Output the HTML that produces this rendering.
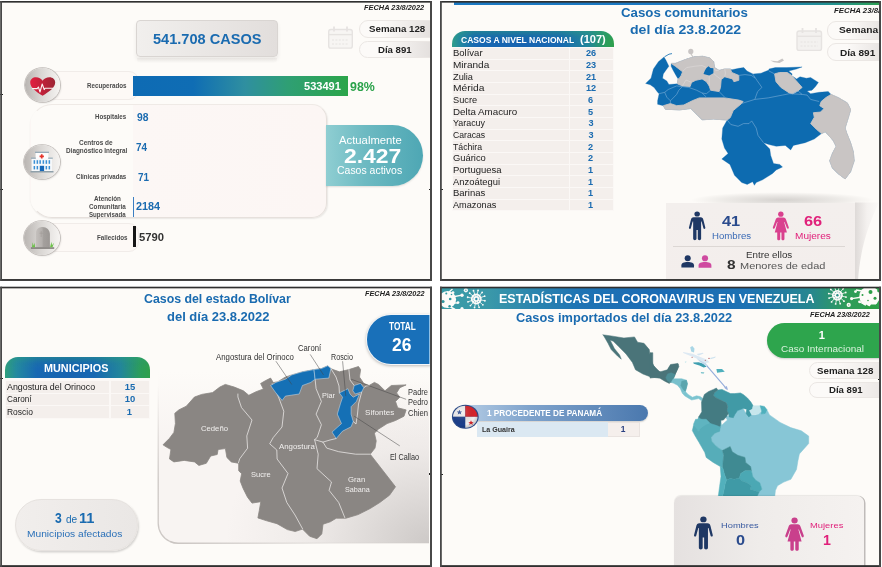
<!DOCTYPE html>
<html lang="es"><head><meta charset="utf-8"><title>Estadísticas del Coronavirus en Venezuela</title>
<style>
html,body{margin:0;padding:0;background:#fff;}
body{width:882px;height:567px;position:relative;overflow:hidden;font-family:'Liberation Sans', sans-serif;}
.panel{position:absolute;overflow:hidden;background:#fdfbf8;}
.in{position:absolute;width:882px;height:567px;}
.tx{position:absolute;left:0;top:0;width:882px;height:567px;will-change:transform;}
.t{position:absolute;white-space:pre;line-height:1;transform-origin:0 50%;}
svg{position:absolute;left:0;top:0;overflow:visible;}
</style></head><body>
<div class="panel" style="left:0px;top:1px;width:432px;height:280px"><div class="in" style="left:0px;top:-1px">
<div style="position:absolute;left:135.80px;top:20.30px;width:142.50px;height:36.70px;box-sizing:border-box;border-radius:4px;background:linear-gradient(90deg,#f1efed,#e2dedc);border:1px solid #d9d5d2;box-shadow:0 3px 4px rgba(0,0,0,.07);"></div>
<div style="position:absolute;left:137.00px;top:57.50px;width:140.00px;height:5.50px;box-sizing:border-box;background:linear-gradient(180deg,rgba(120,110,105,.07),rgba(120,110,105,0));border-radius:0 0 4px 4px;"></div>
<div style="position:absolute;left:358.60px;top:19.90px;width:73.40px;height:17.70px;box-sizing:border-box;border-radius:9px 0 0 9px;background:linear-gradient(90deg,#fcfaf8 30%,#e4e0de);border:1px solid #ebe7e4;"></div>
<div style="position:absolute;left:358.60px;top:40.50px;width:73.40px;height:17.70px;box-sizing:border-box;border-radius:9px 0 0 9px;background:linear-gradient(90deg,#fcfaf8 30%,#e4e0de);border:1px solid #ebe7e4;"></div>
<svg width="882" height="567" viewBox="0 0 882 567"><g fill="none" stroke="#e6e3e1" stroke-width="1.4"><rect x="328.7" y="29.5" width="23.6" height="18.6" rx="2.2" fill="#f7f5f3"/><line x1="328.7" y1="34.6" x2="352.3" y2="34.6"/><line x1="334" y1="26.5" x2="334" y2="31.5" stroke-width="1.8"/><line x1="347" y1="26.5" x2="347" y2="31.5" stroke-width="1.8"/><line x1="332" y1="40" x2="349" y2="40" stroke-dasharray="2 1.4" stroke-width="1"/><line x1="332" y1="44" x2="349" y2="44" stroke-dasharray="2 1.4" stroke-width="1"/></g></svg>
<div style="position:absolute;left:42.00px;top:71.10px;width:97.40px;height:29.40px;box-sizing:border-box;border-radius:0 10px 10px 0;background:#fdf9f6;border:1px solid #f1ece9;"></div>
<div style="position:absolute;left:133.30px;top:75.90px;width:214.30px;height:20.10px;box-sizing:border-box;background:linear-gradient(90deg,#0e6bb4 0%,#0f6db4 28%,#2f8fa0 52%,#2f9f74 72%,#2ba54a 100%);"></div>
<div style="position:absolute;left:30.00px;top:104.40px;width:296.60px;height:113.60px;box-sizing:border-box;border-radius:22px 15px 15px 22px;background:linear-gradient(90deg,#fdfbf8 0%,#fdfbf8 34.4%,#fcf7f5 34.6%,#fcf6f4 100%);border:1px solid #e6e0dc;border-left-color:rgba(250,246,243,0);border-top-color:#efeae6;box-shadow:0.5px 1px 1.5px rgba(0,0,0,.08);"></div>
<div style="position:absolute;left:326.40px;top:125.10px;width:96.80px;height:61.30px;box-sizing:border-box;border-radius:0 31px 31px 0;background:linear-gradient(90deg,#8fced2 0%,#6dbac2 40%,#4ea7b4 100%);box-shadow:0 1px 2px rgba(0,0,0,.12);"></div>
<div style="position:absolute;left:133.10px;top:196.80px;width:1.30px;height:19.90px;box-sizing:border-box;background:#3b7ec2;"></div>
<div style="position:absolute;left:42.00px;top:223.20px;width:96.80px;height:29.20px;box-sizing:border-box;border-radius:0 10px 10px 0;background:#fdf9f6;border:1px solid #f1ece9;"></div>
<div style="position:absolute;left:133.40px;top:226.30px;width:2.20px;height:20.40px;box-sizing:border-box;background:#161616;"></div>
<div style="position:absolute;left:24.60px;top:68.10px;width:35.60px;height:34.00px;border-radius:50%;background:linear-gradient(90deg,#b9b5b2 0%,#d9d6d3 45%,#f6f4f2 100%);box-shadow:0 0 0 0.8px #bfbab7, 1px 1px 2px rgba(0,0,0,.15);"></div>
<svg width="882" height="567" viewBox="0 0 882 567"><defs><linearGradient id="hg" x1="0" x2="1" y1="0" y2="0"><stop offset="0" stop-color="#e21f3f"/><stop offset="1" stop-color="#9c2433"/></linearGradient></defs><path d="M42.6 95.8 C36 91.5 30.2 87.5 30.2 82.4 C30.2 79.2 32.8 77.2 36 77.2 C38.8 77.2 41.2 78.6 42.6 80.8 C44 78.6 46.6 77.2 49.4 77.2 C52.7 77.2 55.2 79.3 55.2 82.5 C55.2 87.5 49.4 91.5 42.6 95.8 Z" fill="url(#hg)"/><path d="M32.5 88.6 L37.2 88.6 L38.4 87 L40 92 L42.2 84 L44.2 89.6 L45 88.3 L53 88.3" fill="none" stroke="#fbf3f2" stroke-width="1.1" stroke-linejoin="round" stroke-linecap="round"/></svg>
<div style="position:absolute;left:24.30px;top:145.21px;width:35.80px;height:34.19px;border-radius:50%;background:linear-gradient(90deg,#b9b5b2 0%,#d9d6d3 45%,#f6f4f2 100%);box-shadow:0 0 0 0.8px #bfbab7, 1px 1px 2px rgba(0,0,0,.15);"></div>
<svg width="882" height="567" viewBox="0 0 882 567"><g><rect x="35.6" y="152.8" width="12.8" height="18.4" fill="#fdfdfd"/><rect x="31.6" y="158.6" width="20.4" height="12.6" fill="#f6f8fa"/><rect x="35" y="151.7" width="14" height="1.2" fill="#8fa6b4"/><rect x="31" y="157.6" width="4.8" height="1.1" fill="#8fa6b4"/><rect x="48.2" y="157.6" width="4.6" height="1.1" fill="#8fa6b4"/><path d="M40.9 154.2h1.7v1.3h1.3v1.7h-1.3v1.3h-1.7v-1.3h-1.3v-1.7h1.3z" fill="#e5352b"/><rect x="33.6" y="160.2" width="1.5" height="3.6" fill="#3a8fd4"/><rect x="36.6" y="160.2" width="1.5" height="3.6" fill="#3a8fd4"/><rect x="39.4" y="160.2" width="1.5" height="3.6" fill="#3a8fd4"/><rect x="42.6" y="160.2" width="1.5" height="3.6" fill="#3a8fd4"/><rect x="45.6" y="160.2" width="1.5" height="3.6" fill="#3a8fd4"/><rect x="48.6" y="160.2" width="1.5" height="3.6" fill="#3a8fd4"/><rect x="33.6" y="166" width="1.5" height="3.4" fill="#3a8fd4"/><rect x="36.6" y="166" width="1.5" height="3.4" fill="#3a8fd4"/><rect x="45.6" y="166" width="1.5" height="3.4" fill="#3a8fd4"/><rect x="48.6" y="166" width="1.5" height="3.4" fill="#3a8fd4"/><rect x="39.8" y="165.8" width="4.3" height="5.4" fill="#1768b8"/><rect x="30.5" y="171" width="23" height="1.5" fill="#8fa0aa"/></g></svg>
<div style="position:absolute;left:24.40px;top:221.21px;width:35.80px;height:34.19px;border-radius:50%;background:linear-gradient(90deg,#b9b5b2 0%,#d9d6d3 45%,#f6f4f2 100%);box-shadow:0 0 0 0.8px #bfbab7, 1px 1px 2px rgba(0,0,0,.15);"></div>
<svg width="882" height="567" viewBox="0 0 882 567"><defs><linearGradient id="tg" x1="0" x2="1"><stop offset="0" stop-color="#c4c0bd"/><stop offset="0.45" stop-color="#b3afac"/><stop offset="0.5" stop-color="#a5a19e"/><stop offset="1" stop-color="#9b9794"/></linearGradient></defs><path d="M36 247.4 V233 C36 229 39 227 42.4 227 C46.8 227 49.9 230 49.9 234.5 V247.4 Z" fill="url(#tg)"/><path d="M41.2 231 v6 M39.5 233.2 h3.6" stroke="#9a9693" stroke-width="0.5" fill="none"/><rect x="30.9" y="247.3" width="23.3" height="1.5" fill="#7d7977"/><path d="M32 247.3 l0.6 -5 l1 3.5 l0.9 -3 l0.6 4.5 z M50 247.3 l1.5 -5.5 l0.5 3.5 l2 -2.5 l-1.5 4.5 z" fill="#6cc24a"/></svg>
<div style="position:absolute;left:0.00px;top:94.00px;width:3.00px;height:1.20px;box-sizing:border-box;background:#222;"></div>
<div style="position:absolute;left:0.00px;top:188.70px;width:3.00px;height:1.20px;box-sizing:border-box;background:#222;"></div>
<div style="position:absolute;left:429.00px;top:188.70px;width:3.00px;height:1.20px;box-sizing:border-box;background:#222;"></div>
<div class="tx">
<span class="t" style="left:152.79px;top:32.00px;font-size:14.83px;font-weight:700;color:#1a6bb0;transform:scaleX(0.9827);">541.708 CASOS</span>
<span class="t" style="left:364.16px;top:5.00px;font-size:7.12px;font-weight:700;color:#222;font-style:italic;transform:scaleX(1.0414);">FECHA 23/8/2022</span>
<span class="t" style="left:369.00px;top:24.00px;font-size:9.45px;font-weight:700;color:#222;transform:scaleX(1.0315);">Semana 128</span>
<span class="t" style="left:378.16px;top:45.00px;font-size:9.45px;font-weight:700;color:#222;transform:scaleX(1.0182);">Día 891</span>
<span class="t" style="left:303.84px;top:81.00px;font-size:11.48px;font-weight:700;color:#fff;transform:scaleX(0.9632);">533491</span>
<span class="t" style="left:350.05px;top:80.00px;font-size:13.66px;font-weight:700;color:#2aa24a;transform:scaleX(0.9074);">98%</span>
<span class="t" style="left:87.00px;top:83.00px;font-size:6.83px;font-weight:700;color:#4a4a4a;transform:scaleX(0.9140);">Recuperados</span>
<span class="t" style="left:338.79px;top:136.00px;font-size:10.03px;font-weight:400;color:#fff;transform:scaleX(1.1276);">Actualmente</span>
<span class="t" style="left:343.73px;top:147.00px;font-size:19.77px;font-weight:700;color:#fff;transform:scaleX(1.1596);">2.427</span>
<span class="t" style="left:337.05px;top:166.00px;font-size:10.03px;font-weight:400;color:#fff;transform:scaleX(1.0452);">Casos activos</span>
<span class="t" style="left:94.63px;top:114.00px;font-size:6.83px;font-weight:700;color:#4a4a4a;transform:scaleX(0.9005);">Hospitales</span>
<span class="t" style="left:136.79px;top:112.00px;font-size:11.19px;font-weight:700;color:#1a6bb0;transform:scaleX(0.9231);">98</span>
<span class="t" style="left:79.21px;top:140.00px;font-size:6.83px;font-weight:700;color:#4a4a4a;transform:scaleX(0.9429);">Centros de</span>
<span class="t" style="left:65.58px;top:148.00px;font-size:6.83px;font-weight:700;color:#4a4a4a;transform:scaleX(0.9354);">Diagnóstico Integral</span>
<span class="t" style="left:135.84px;top:142.00px;font-size:11.19px;font-weight:700;color:#1a6bb0;transform:scaleX(0.8846);">74</span>
<span class="t" style="left:76.37px;top:174.00px;font-size:6.83px;font-weight:700;color:#4a4a4a;transform:scaleX(0.8946);">Clínicas privadas</span>
<span class="t" style="left:137.79px;top:172.00px;font-size:11.19px;font-weight:700;color:#1a6bb0;transform:scaleX(0.8867);">71</span>
<span class="t" style="left:94.21px;top:196.00px;font-size:6.83px;font-weight:700;color:#4a4a4a;transform:scaleX(0.9207);">Atención</span>
<span class="t" style="left:89.21px;top:204.00px;font-size:6.83px;font-weight:700;color:#4a4a4a;transform:scaleX(0.9225);">Comunitaria</span>
<span class="t" style="left:89.21px;top:212.00px;font-size:6.83px;font-weight:700;color:#4a4a4a;transform:scaleX(0.9000);">Supervisada</span>
<span class="t" style="left:135.84px;top:201.00px;font-size:11.19px;font-weight:700;color:#1a6bb0;transform:scaleX(0.9680);">2184</span>
<span class="t" style="left:96.58px;top:235.00px;font-size:6.83px;font-weight:700;color:#4a4a4a;transform:scaleX(0.9121);">Fallecidos</span>
<span class="t" style="left:138.84px;top:232.00px;font-size:11.48px;font-weight:700;color:#333;transform:scaleX(0.9800);">5790</span>
</div>
</div></div>
<svg width="882" height="567" viewBox="0 0 882 567" style="pointer-events:none"><rect x="0.2" y="1.0" width="431.80" height="1.65" fill="#303030"/><rect x="0.2" y="279.05" width="431.80" height="1.85" fill="#303030"/><rect x="0.2" y="1.0" width="1.8" height="279.90" fill="#484848"/><rect x="430.00" y="1.0" width="2.0" height="279.90" fill="#484848"/></svg>
<div class="panel" style="left:440px;top:1px;width:441px;height:280px"><div class="in" style="left:-440px;top:-1px">
<div style="position:absolute;left:454.00px;top:2.00px;width:427.00px;height:2.60px;box-sizing:border-box;background:linear-gradient(90deg,#1b78c2 0%,#1b78c2 70%,#23938a 90%,#2ea050 100%);"></div>
<div style="position:absolute;left:827.40px;top:21.20px;width:62.60px;height:18.50px;box-sizing:border-box;border-radius:9px 0 0 9px;background:linear-gradient(90deg,#fcfaf8 30%,#e4e0de);border:1px solid #ebe7e4;"></div>
<div style="position:absolute;left:827.40px;top:42.90px;width:62.60px;height:18.60px;box-sizing:border-box;border-radius:9px 0 0 9px;background:linear-gradient(90deg,#fcfaf8 30%,#e4e0de);border:1px solid #ebe7e4;"></div>
<svg width="882" height="567" viewBox="0 0 882 567"><g fill="none" stroke="#e6e3e1" stroke-width="1.4"><rect x="797" y="31" width="24.5" height="19.4" rx="2.2" fill="#f3f1ef"/><line x1="797" y1="36.3" x2="821.5" y2="36.3"/><line x1="802.5" y1="28" x2="802.5" y2="33" stroke-width="1.8"/><line x1="816" y1="28" x2="816" y2="33" stroke-width="1.8"/><line x1="800.5" y1="42" x2="818" y2="42" stroke-dasharray="2 1.4" stroke-width="1"/><line x1="800.5" y1="46" x2="818" y2="46" stroke-dasharray="2 1.4" stroke-width="1"/></g></svg>
<div style="position:absolute;left:451.80px;top:30.60px;width:162.30px;height:16.00px;box-sizing:border-box;border-radius:13px 13px 0 0;background:linear-gradient(180deg,rgba(46,160,120,.45) 0%,rgba(40,140,130,.15) 35%,rgba(27,110,184,0) 60%),linear-gradient(90deg,#2f9f8a 0%,#2389a0 5%,#1868b2 14%,#1763b0 45%,#1868b2 66%,#22869a 84%,#2c9d5c 95%,#2fa04c 100%);"></div>
<div style="position:absolute;left:451.80px;top:46.60px;width:162.30px;height:164.20px;box-sizing:border-box;background:#fbf8f6;"></div>
<div style="position:absolute;left:452.50px;top:48.10px;width:116.50px;height:10.56px;box-sizing:border-box;background:#f4efec;"></div>
<div style="position:absolute;left:570.20px;top:48.10px;width:43.10px;height:10.56px;box-sizing:border-box;background:#f4efec;"></div>
<div style="position:absolute;left:452.50px;top:59.76px;width:116.50px;height:10.56px;box-sizing:border-box;background:#f4efec;"></div>
<div style="position:absolute;left:570.20px;top:59.76px;width:43.10px;height:10.56px;box-sizing:border-box;background:#f4efec;"></div>
<div style="position:absolute;left:452.50px;top:71.42px;width:116.50px;height:10.56px;box-sizing:border-box;background:#f4efec;"></div>
<div style="position:absolute;left:570.20px;top:71.42px;width:43.10px;height:10.56px;box-sizing:border-box;background:#f4efec;"></div>
<div style="position:absolute;left:452.50px;top:83.08px;width:116.50px;height:10.56px;box-sizing:border-box;background:#f4efec;"></div>
<div style="position:absolute;left:570.20px;top:83.08px;width:43.10px;height:10.56px;box-sizing:border-box;background:#f4efec;"></div>
<div style="position:absolute;left:452.50px;top:94.74px;width:116.50px;height:10.56px;box-sizing:border-box;background:#f4efec;"></div>
<div style="position:absolute;left:570.20px;top:94.74px;width:43.10px;height:10.56px;box-sizing:border-box;background:#f4efec;"></div>
<div style="position:absolute;left:452.50px;top:106.40px;width:116.50px;height:10.56px;box-sizing:border-box;background:#f4efec;"></div>
<div style="position:absolute;left:570.20px;top:106.40px;width:43.10px;height:10.56px;box-sizing:border-box;background:#f4efec;"></div>
<div style="position:absolute;left:452.50px;top:118.06px;width:116.50px;height:10.56px;box-sizing:border-box;background:#f4efec;"></div>
<div style="position:absolute;left:570.20px;top:118.06px;width:43.10px;height:10.56px;box-sizing:border-box;background:#f4efec;"></div>
<div style="position:absolute;left:452.50px;top:129.72px;width:116.50px;height:10.56px;box-sizing:border-box;background:#f4efec;"></div>
<div style="position:absolute;left:570.20px;top:129.72px;width:43.10px;height:10.56px;box-sizing:border-box;background:#f4efec;"></div>
<div style="position:absolute;left:452.50px;top:141.38px;width:116.50px;height:10.56px;box-sizing:border-box;background:#f4efec;"></div>
<div style="position:absolute;left:570.20px;top:141.38px;width:43.10px;height:10.56px;box-sizing:border-box;background:#f4efec;"></div>
<div style="position:absolute;left:452.50px;top:153.04px;width:116.50px;height:10.56px;box-sizing:border-box;background:#f4efec;"></div>
<div style="position:absolute;left:570.20px;top:153.04px;width:43.10px;height:10.56px;box-sizing:border-box;background:#f4efec;"></div>
<div style="position:absolute;left:452.50px;top:164.70px;width:116.50px;height:10.56px;box-sizing:border-box;background:#f4efec;"></div>
<div style="position:absolute;left:570.20px;top:164.70px;width:43.10px;height:10.56px;box-sizing:border-box;background:#f4efec;"></div>
<div style="position:absolute;left:452.50px;top:176.36px;width:116.50px;height:10.56px;box-sizing:border-box;background:#f4efec;"></div>
<div style="position:absolute;left:570.20px;top:176.36px;width:43.10px;height:10.56px;box-sizing:border-box;background:#f4efec;"></div>
<div style="position:absolute;left:452.50px;top:188.02px;width:116.50px;height:10.56px;box-sizing:border-box;background:#f4efec;"></div>
<div style="position:absolute;left:570.20px;top:188.02px;width:43.10px;height:10.56px;box-sizing:border-box;background:#f4efec;"></div>
<div style="position:absolute;left:452.50px;top:199.68px;width:116.50px;height:10.56px;box-sizing:border-box;background:#f4efec;"></div>
<div style="position:absolute;left:570.20px;top:199.68px;width:43.10px;height:10.56px;box-sizing:border-box;background:#f4efec;"></div>
<div style="position:absolute;left:440.00px;top:188.70px;width:3.00px;height:1.20px;box-sizing:border-box;background:#222;"></div>
<svg width="882" height="567" viewBox="0 0 882 567"><polygon points="664.0,57.0 666.1,60.5 668.9,66.2 666.8,69.0 663.3,73.9 662.6,78.2 666.8,81.0 668.9,84.5 677.4,83.8 678.1,78.9 676.0,75.4 673.2,70.4 671.1,66.2 671.3,63.4 675.3,63.4 686.6,59.1 694.4,56.7 702.8,56.3 709.9,58.0 713.7,61.7 714.5,67.6 719.1,70.4 724.7,69.0 730.4,69.0 731.8,69.7 738.8,68.3 743.8,67.6 747.0,71.0 753.0,74.0 761.0,73.2 769.0,70.0 768.9,69.0 775.3,67.6 786.6,67.6 802.1,66.9 796.5,69.0 788.7,71.1 792.2,73.9 791.5,75.4 796.5,78.9 800.0,76.8 806.4,78.2 810.6,77.5 818.4,82.4 815.5,86.6 812.0,90.2 807.1,90.9 810.6,93.7 819.1,92.3 828.2,91.6 831.1,94.4 838.8,97.9 847.3,102.9 850.1,108.5 850.6,110.0 847.9,119.1 845.1,128.1 846.9,133.6 850.6,142.7 853.3,151.7 854.2,160.8 850.6,171.7 845.1,178.9 837.9,173.5 832.4,168.0 829.7,160.8 832.4,153.5 836.1,146.3 833.3,140.8 828.8,135.4 825.2,131.8 821.5,133.6 814.3,139.0 805.2,142.7 793.4,145.4 790.7,149.9 785.3,145.4 776.2,146.3 768.9,144.5 763.5,142.7 769.8,149.0 770.7,155.4 773.5,163.5 779.8,164.4 782.5,167.1 776.2,169.9 772.6,173.5 762.6,179.8 756.2,182.6 754.4,185.3 752.6,181.7 747.2,184.4 741.7,182.6 734.5,175.3 729.9,164.4 721.8,159.0 728.1,153.5 724.5,148.1 721.8,139.0 722.7,128.1 727.2,120.0 713.4,119.1 702.1,119.8 696.5,114.2 690.8,108.5 679.5,109.9 665.4,109.2 663.3,105.7 657.6,104.3 657.6,100.8 659.1,93.7 657.6,92.3 654.1,87.4 650.2,84.8 645.6,83.4 651.0,78.2 653.4,69.0 658.4,61.7" fill="#0d6bb0" stroke="#0d6bb0" stroke-width="0.3" stroke-linejoin="round"/><polygon points="671.3,63.4 675.3,63.4 686.6,59.1 694.4,56.7 702.8,56.3 709.9,58.0 713.7,61.7 714.5,67.6 719.1,70.4 724.7,69.0 730.4,69.0 731.8,72.5 738.8,75.4 738.8,80.3 733.9,81.7 732.5,78.9 724.7,76.8 721.2,79.6 720.5,87.4 719.1,91.6 710.6,90.2 709.2,85.9 706.4,81.7 702.1,78.9 695.8,80.3 691.5,82.4 690.1,86.6 682.4,85.9 677.4,83.8 678.1,78.9 679.2,78.4 681.2,75.4 682.6,71.8 675.3,66.2" fill="#c9c5c4" stroke="#c9c5c4" stroke-width="0.9" stroke-linejoin="round"/><polygon points="663.3,105.7 670.4,103.6 676.7,105.7 683.8,105.0 692.2,100.8 699.3,97.9 706.4,97.9 724.7,97.9 738.8,100.1 743.1,101.5 741.6,103.5 733.2,110.6 730.3,117.6 727.2,120.0 713.4,119.1 702.1,119.8 696.5,114.2 690.8,108.5 679.5,109.9 665.4,109.2" fill="#c9c5c4" stroke="#c9c5c4" stroke-width="0.9" stroke-linejoin="round"/><polygon points="774.6,73.9 779.5,72.5 787.3,72.5 791.5,75.4 795.8,80.3 802.1,87.4 797.9,90.9 792.9,93.7 789.4,93.0 780.9,87.4 776.0,81.7" fill="#c9c5c4" stroke="#c9c5c4" stroke-width="0.9" stroke-linejoin="round"/><polygon points="831.1,94.4 838.8,97.9 847.3,102.9 850.1,108.5 850.6,110.0 847.9,119.1 845.1,128.1 846.9,133.6 850.6,142.7 853.3,151.7 854.2,160.8 850.6,171.7 845.1,178.9 837.9,173.5 832.4,168.0 829.7,160.8 832.4,153.5 836.1,146.3 833.3,140.8 828.8,135.4 825.2,131.8 821.5,133.6 816.1,129.0 810.7,123.6 814.3,117.3 813.4,112.7 820.5,112.1 824.0,108.5 819.8,105.7 821.2,101.5 826.0,97.5" fill="#c9c5c4" stroke="#c9c5c4" stroke-width="0.9" stroke-linejoin="round"/><polyline points="682.4,71.8 686.6,67.6 695.0,66.2 702.1,65.5 706.4,67.6" fill="none" stroke="#e2dfde" stroke-width="0.5"/><polyline points="682.4,85.9 686.0,80.0 691.5,82.4" fill="none" stroke="#e2dfde" stroke-width="0.5"/><polyline points="713.4,73.2 716.5,76.0 721.2,79.6" fill="none" stroke="#e2dfde" stroke-width="0.5"/><polyline points="713.4,68.3 716.0,70.5 719.1,70.4" fill="none" stroke="#e2dfde" stroke-width="0.5"/><polyline points="724.7,69.0 725.5,73.0 724.7,76.8" fill="none" stroke="#e2dfde" stroke-width="0.5"/><polyline points="709.2,75.4 709.2,85.9" fill="none" stroke="#e2dfde" stroke-width="0.5"/><polygon points="708.5,66.2 710.5,68.0 713.4,68.3 713.4,73.2 709.2,75.4 703.5,73.9 704.9,70.4 706.4,67.9" fill="#0d6bb0" /><ellipse cx="690.8" cy="51.5" rx="2.6" ry="2.8" fill="#c9c5c4"/><path d="M691 54 L693 57" stroke="#c9c5c4" stroke-width="1.2"/><polygon points="770.3,60.5 777.4,61.2 782.3,58.4 784.0,60.5 779.5,63.1 773.9,62.2" fill="#c9c5c4" /><polyline points="664.5,56.8 669.0,54.2 672.0,53.6" fill="none" stroke="#0d6bb0" stroke-width="0.8"/><polyline points="727.2,120.0 730.8,124.5 738.1,126.3 743.5,123.6 749.0,123.6 751.7,120.9 756.2,128.1 758.0,135.4 763.5,142.7" fill="none" stroke="#86b4da" stroke-width="0.55" stroke-linejoin="round"/><polyline points="741.6,103.5 754.8,99.4 768.2,97.9 782.4,95.1 789.4,93.7 802.1,94.4 807.1,95.1 810.6,99.4 819.1,101.5" fill="none" stroke="#86b4da" stroke-width="0.55" stroke-linejoin="round"/><polyline points="754.8,99.4 757.6,91.6 761.9,87.4 756.9,80.3 752.7,73.9" fill="none" stroke="#86b4da" stroke-width="0.55" stroke-linejoin="round"/><polyline points="738.8,75.4 745.0,74.6 751.3,75.4 755.0,78.0" fill="none" stroke="#86b4da" stroke-width="0.55" stroke-linejoin="round"/><polyline points="659.1,93.7 664.7,92.3 666.8,97.2 670.4,100.8 670.4,103.6" fill="none" stroke="#86b4da" stroke-width="0.55" stroke-linejoin="round"/><polyline points="664.7,92.3 668.2,89.5 676.7,85.9 682.4,86.6 678.8,90.2 676.7,94.4 670.4,100.8" fill="none" stroke="#86b4da" stroke-width="0.55" stroke-linejoin="round"/><polyline points="682.4,86.6 688.7,87.4 696.5,90.2 702.1,93.0 706.4,97.2" fill="none" stroke="#86b4da" stroke-width="0.55" stroke-linejoin="round"/><polyline points="702.1,93.0 706.4,93.7 710.6,90.2" fill="none" stroke="#86b4da" stroke-width="0.55" stroke-linejoin="round"/><polyline points="719.1,91.6 724.7,97.2" fill="none" stroke="#86b4da" stroke-width="0.55" stroke-linejoin="round"/><polyline points="792.9,93.7 797.9,90.9 802.1,94.4" fill="none" stroke="#86b4da" stroke-width="0.55" stroke-linejoin="round"/><polyline points="774.6,73.9 769.0,71.0" fill="none" stroke="#86b4da" stroke-width="0.55" stroke-linejoin="round"/></svg>
<div style="position:absolute;left:690px;top:192px;width:185px;height:16px;border-radius:50%;background:radial-gradient(ellipse at center,rgba(120,115,112,.30) 0%,rgba(120,115,112,.12) 45%,rgba(120,115,112,0) 70%);"></div>
<div style="position:absolute;left:666.30px;top:202.60px;width:188.70px;height:79.40px;box-sizing:border-box;background:linear-gradient(180deg,#f3efed 0%,#f3eeec 100%);"></div>
<svg width="882" height="567" viewBox="0 0 882 567"><defs><linearGradient id="curl" x1="0" x2="1"><stop offset="0" stop-color="#dedad8"/><stop offset="0.5" stop-color="#f4f1ef"/><stop offset="1" stop-color="#fbf9f7"/></linearGradient></defs><path d="M855 202.6 L879 202.6 C868 225 860 250 858 281 L855 281 Z" fill="url(#curl)"/></svg>
<div style="position:absolute;left:672.60px;top:245.90px;width:172.40px;height:1.00px;box-sizing:border-box;background:#dcd7d4;"></div>
<svg width="882" height="567" viewBox="0 0 882 567"><g transform="translate(688.90,211.40) scale(0.2890)" fill="#1f3864"><ellipse cx="28.5" cy="8.8" rx="9.6" ry="8.8"/><path d="M16.5 20.5 H40.5 C46.5 20.5 49.0 24 50.0 29 L56.8 56 C58.0 61 51.5 62.8 50.3 58 L44.0 35 H42.3 V95 C42.3 101.5 30.7 101.5 30.7 95 V64 H26.3 V95 C26.3 101.5 14.7 101.5 14.7 95 V35 H13.0 L6.699999999999999 58 C5.5 62.8 -1.0 61 0.1999999999999993 56 L7.0 29 C8.0 24 10.5 20.5 16.5 20.5 Z"/></g><g transform="translate(772.60,211.60) scale(0.2890)" fill="#d9408e"><ellipse cx="28.5" cy="8.8" rx="9.4" ry="8.8"/><path d="M19.5 20.5 H37.5 C43.0 20.5 45.5 24 47.0 29 L56.0 54 C57.5 59 51.5 61.5 49.5 57 L41.5 36 H40.0 L49.5 72 H41.0 V95 C41.0 101 30.7 101 30.7 95 V72 H26.3 V95 C26.3 101 16.0 101 16.0 95 V72 H7.5 L17.0 36 H15.5 L7.5 57 C5.5 61.5 -0.5 59 1.0 54 L10.0 29 C11.5 24 14.0 20.5 19.5 20.5 Z"/></g><g transform="translate(681.40,254.90) scale(0.1260)" fill="#1f3864"><circle cx="50" cy="26" r="24"/><path d="M0 100 V82 C0 64 20 56 50 56 C80 56 100 64 100 82 V100 Z"/></g><g transform="translate(698.60,254.90) scale(0.1280)" fill="#cf4aa0"><circle cx="50" cy="26" r="24"/><path d="M0 100 V82 C0 64 20 56 50 56 C80 56 100 64 100 82 V100 Z"/></g></svg>
<div class="tx">
<span class="t" style="left:620.63px;top:6.00px;font-size:13.23px;font-weight:700;color:#1a6bb0;transform:scaleX(1.0040);">Casos comunitarios</span>
<span class="t" style="left:629.84px;top:23.00px;font-size:13.23px;font-weight:700;color:#1a6bb0;transform:scaleX(1.0654);">del día 23.8.2022</span>
<span class="t" style="left:833.79px;top:7.00px;font-size:7.56px;font-weight:700;color:#222;font-style:italic;transform:scaleX(1.0371);">FECHA 23/8/2022</span>
<span class="t" style="left:838.84px;top:25.00px;font-size:9.74px;font-weight:700;color:#222;transform:scaleX(1.0500);">Semana 128</span>
<span class="t" style="left:840.21px;top:48.00px;font-size:9.74px;font-weight:700;color:#222;transform:scaleX(1.0353);">Día 891</span>
<span class="t" style="left:460.63px;top:35.00px;font-size:9.88px;font-weight:700;color:#fff;transform:scaleX(0.8649);">CASOS A NIVEL NACIONAL</span>
<span class="t" style="left:580.37px;top:34.00px;font-size:10.61px;font-weight:700;color:#fff;transform:scaleX(1.0417);">(107)</span>
<span class="t" style="left:452.63px;top:49.00px;font-size:8.58px;font-weight:400;color:#222;transform:scaleX(1.1077);">Bolívar</span>
<span class="t" style="left:586.00px;top:49.00px;font-size:9.16px;font-weight:700;color:#1a6bb0;">26</span>
<span class="t" style="left:452.57px;top:61.00px;font-size:8.58px;font-weight:400;color:#222;transform:scaleX(1.1700);">Miranda</span>
<span class="t" style="left:586.00px;top:61.00px;font-size:9.16px;font-weight:700;color:#1a6bb0;">23</span>
<span class="t" style="left:452.84px;top:73.00px;font-size:8.58px;font-weight:400;color:#222;transform:scaleX(1.0750);">Zulia</span>
<span class="t" style="left:586.00px;top:73.00px;font-size:9.16px;font-weight:700;color:#1a6bb0;">21</span>
<span class="t" style="left:452.54px;top:84.00px;font-size:8.58px;font-weight:400;color:#222;transform:scaleX(1.1960);">Mérida</span>
<span class="t" style="left:586.00px;top:84.00px;font-size:9.16px;font-weight:700;color:#1a6bb0;">12</span>
<span class="t" style="left:452.66px;top:96.00px;font-size:8.58px;font-weight:400;color:#222;transform:scaleX(1.0762);">Sucre</span>
<span class="t" style="left:588.00px;top:96.00px;font-size:9.16px;font-weight:700;color:#1a6bb0;">6</span>
<span class="t" style="left:452.60px;top:108.00px;font-size:8.58px;font-weight:400;color:#222;transform:scaleX(1.1418);">Delta Amacuro</span>
<span class="t" style="left:588.00px;top:108.00px;font-size:9.16px;font-weight:700;color:#1a6bb0;">5</span>
<span class="t" style="left:452.84px;top:119.00px;font-size:8.58px;font-weight:400;color:#222;transform:scaleX(1.0387);">Yaracuy</span>
<span class="t" style="left:588.50px;top:119.00px;font-size:9.16px;font-weight:700;color:#1a6bb0;">3</span>
<span class="t" style="left:452.84px;top:131.00px;font-size:8.58px;font-weight:400;color:#222;transform:scaleX(1.0062);">Caracas</span>
<span class="t" style="left:588.50px;top:131.00px;font-size:9.16px;font-weight:700;color:#1a6bb0;">3</span>
<span class="t" style="left:452.84px;top:143.00px;font-size:8.58px;font-weight:400;color:#222;transform:scaleX(1.0138);">Táchira</span>
<span class="t" style="left:588.00px;top:143.00px;font-size:9.16px;font-weight:700;color:#1a6bb0;">2</span>
<span class="t" style="left:452.84px;top:154.00px;font-size:8.58px;font-weight:400;color:#222;transform:scaleX(1.0933);">Guárico</span>
<span class="t" style="left:588.00px;top:154.00px;font-size:9.16px;font-weight:700;color:#1a6bb0;">2</span>
<span class="t" style="left:452.63px;top:166.00px;font-size:8.58px;font-weight:400;color:#222;transform:scaleX(1.1070);">Portuguesa</span>
<span class="t" style="left:588.00px;top:166.00px;font-size:9.16px;font-weight:700;color:#1a6bb0;">1</span>
<span class="t" style="left:452.84px;top:178.00px;font-size:8.58px;font-weight:400;color:#222;transform:scaleX(1.0953);">Anzoátegui</span>
<span class="t" style="left:588.00px;top:178.00px;font-size:9.16px;font-weight:700;color:#1a6bb0;">1</span>
<span class="t" style="left:452.63px;top:189.00px;font-size:8.58px;font-weight:400;color:#222;transform:scaleX(1.1071);">Barinas</span>
<span class="t" style="left:588.00px;top:189.00px;font-size:9.16px;font-weight:700;color:#1a6bb0;">1</span>
<span class="t" style="left:452.84px;top:201.00px;font-size:8.58px;font-weight:400;color:#222;transform:scaleX(1.0700);">Amazonas</span>
<span class="t" style="left:588.00px;top:201.00px;font-size:9.16px;font-weight:700;color:#1a6bb0;">1</span>
<span class="t" style="left:722.42px;top:214.00px;font-size:14.83px;font-weight:700;color:#2a4b8d;transform:scaleX(1.1062);">41</span>
<span class="t" style="left:711.73px;top:233.00px;font-size:8.28px;font-weight:400;color:#3a6ab5;transform:scaleX(1.1660);">Hombres</span>
<span class="t" style="left:804.00px;top:214.00px;font-size:14.83px;font-weight:700;color:#e0207a;transform:scaleX(1.1016);">66</span>
<span class="t" style="left:794.73px;top:233.00px;font-size:8.28px;font-weight:400;color:#e0207a;transform:scaleX(1.2172);">Mujeres</span>
<span class="t" style="left:746.28px;top:251.00px;font-size:8.58px;font-weight:400;color:#333;transform:scaleX(1.1410);">Entre ellos</span>
<span class="t" style="left:727.05px;top:258.00px;font-size:13.52px;font-weight:700;color:#333;transform:scaleX(1.1429);">8</span>
<span class="t" style="left:739.80px;top:262.00px;font-size:9.16px;font-weight:400;color:#555;transform:scaleX(1.1986);">Menores de edad</span>
</div>
</div></div>
<svg width="882" height="567" viewBox="0 0 882 567" style="pointer-events:none"><rect x="440.0" y="1.0" width="441.00" height="1.65" fill="#303030"/><rect x="440.0" y="279.05" width="441.00" height="1.85" fill="#303030"/><rect x="440.0" y="1.0" width="1.8" height="279.90" fill="#484848"/><rect x="879.00" y="1.0" width="2.0" height="279.90" fill="#484848"/></svg>
<div class="panel" style="left:0px;top:287px;width:432px;height:280px"><div class="in" style="left:0px;top:-287px">
<div style="position:absolute;left:157.70px;top:352.00px;width:271.30px;height:191.20px;box-sizing:border-box;border-radius:0 0 0 20px;background:linear-gradient(180deg,rgba(248,244,242,0) 0%,rgba(248,244,242,0) 10%,rgba(248,244,242,1) 45%,rgba(248,244,242,1) 100%);"></div>
<div style="position:absolute;left:157.70px;top:352.00px;width:271.30px;height:191.20px;box-sizing:border-box;border-radius:0 0 0 20px;background:radial-gradient(ellipse 75% 85% at 100% 100%,rgba(203,199,197,.95) 0%,rgba(212,208,206,.7) 30%,rgba(226,222,220,.4) 60%,rgba(240,236,234,0) 100%);"></div>
<svg width="882" height="567" viewBox="0 0 882 567"><defs><linearGradient id="cb" gradientUnits="userSpaceOnUse" x1="0" y1="385" x2="0" y2="480"><stop offset="0" stop-color="#cdc8c5" stop-opacity="0"/><stop offset="1" stop-color="#cdc8c5" stop-opacity="1"/></linearGradient><linearGradient id="cb2" gradientUnits="userSpaceOnUse" x1="170" y1="0" x2="330" y2="0"><stop offset="0" stop-color="#c9c4c1" stop-opacity="1"/><stop offset="1" stop-color="#c9c4c1" stop-opacity="0.25"/></linearGradient></defs><path d="M158.2 385 V523.2 A20 20 0 0 0 170 541.5" fill="none" stroke="url(#cb)" stroke-width="1.3"/><path d="M170 541.5 Q174 543.3 178.2 543.3 H429" fill="none" stroke="url(#cb2)" stroke-width="1.4"/></svg>
<div style="position:absolute;left:429.00px;top:473.40px;width:3.00px;height:1.20px;box-sizing:border-box;background:#222;"></div>
<div style="position:absolute;left:366.30px;top:314.40px;width:64.70px;height:50.80px;box-sizing:border-box;border-radius:25px 0 0 25px;background:#f4f6f8;box-shadow:0 1px 3px rgba(0,0,0,.25);"></div>
<div style="position:absolute;left:367.30px;top:315.40px;width:61.90px;height:48.80px;box-sizing:border-box;border-radius:24px 0 0 24px;background:#1970b9;"></div>
<div style="position:absolute;left:429.20px;top:315.40px;width:1.00px;height:48.80px;box-sizing:border-box;background:#8fc0e6;"></div>
<div style="position:absolute;left:5.00px;top:357.20px;width:144.90px;height:21.10px;box-sizing:border-box;border-radius:13px 13px 0 0;background:linear-gradient(180deg,rgba(46,160,120,.40) 0%,rgba(40,140,130,.12) 30%,rgba(27,110,184,0) 55%),linear-gradient(90deg,#2f9f7c 0%,#2389a0 8%,#1868b2 22%,#1763b0 45%,#1868b2 62%,#22869a 80%,#2c9d5c 93%,#2fa04c 100%);"></div>
<div style="position:absolute;left:5.00px;top:378.40px;width:144.70px;height:40.60px;box-sizing:border-box;background:#fbf8f6;"></div>
<div style="position:absolute;left:5.60px;top:381.20px;width:103.70px;height:11.60px;box-sizing:border-box;background:#f4efec;"></div>
<div style="position:absolute;left:110.50px;top:381.20px;width:38.50px;height:11.60px;box-sizing:border-box;background:#f4efec;"></div>
<div style="position:absolute;left:5.60px;top:393.60px;width:103.70px;height:11.60px;box-sizing:border-box;background:#f4efec;"></div>
<div style="position:absolute;left:110.50px;top:393.60px;width:38.50px;height:11.60px;box-sizing:border-box;background:#f4efec;"></div>
<div style="position:absolute;left:5.60px;top:406.40px;width:103.70px;height:11.60px;box-sizing:border-box;background:#f4efec;"></div>
<div style="position:absolute;left:110.50px;top:406.40px;width:38.50px;height:11.60px;box-sizing:border-box;background:#f4efec;"></div>
<div style="position:absolute;left:0.00px;top:377.80px;width:3.00px;height:1.20px;box-sizing:border-box;background:#222;"></div>
<div style="position:absolute;left:14.50px;top:499.40px;width:123.90px;height:51.70px;box-sizing:border-box;border-radius:26px;background:linear-gradient(90deg,#f1eeec,#eae7e5);border:1px solid #e6e2df;box-shadow:1px 1.5px 2px rgba(0,0,0,.16);"></div>
<svg width="882" height="567" viewBox="0 0 882 567"><polygon points="163.0,444.8 169.5,438.3 173.9,432.4 175.4,423.6 174.8,413.3 179.0,409.8 186.3,406.2 194.4,397.1 201.7,394.4 212.6,392.6 219.8,387.1 225.3,384.4 234.3,387.1 243.4,390.8 248.8,395.3 256.1,391.7 263.4,389.0 260.6,383.5 265.2,380.8 270.6,378.1 273.3,382.6 277.9,381.7 285.1,377.2 291.8,374.9 302.4,371.8 314.0,369.6 321.4,368.6 327.8,365.8 330.9,368.6 333.1,369.6 339.4,371.8 348.9,369.6 358.5,366.5 360.6,369.6 359.5,377.1 363.8,383.4 369.1,385.5 374.4,382.4 378.6,384.5 385.0,390.8 391.3,385.5 406.1,384.9 399.8,387.7 396.6,392.9 399.8,397.2 395.5,401.4 397.7,407.8 406.1,409.9 404.0,416.2 395.5,420.5 387.1,423.6 378.6,429.0 374.4,433.2 376.2,440.9 375.0,448.1 370.2,454.2 395.5,486.8 389.5,495.2 379.8,502.5 370.2,508.5 358.1,514.6 346.0,518.2 336.3,518.2 330.3,521.8 323.0,524.2 321.8,533.9 317.0,538.7 309.7,536.3 302.5,529.1 295.2,531.5 287.3,529.6 277.0,523.7 266.7,520.8 257.9,517.9 259.3,510.5 260.8,501.7 252.0,503.1 247.5,497.2 243.1,488.4 240.2,481.0 241.6,473.7 238.7,470.7 238.7,463.3 231.3,461.9 226.9,457.5 225.4,448.6 218.1,449.5 217.2,454.5 210.7,456.0 206.3,463.3 198.9,465.4 194.5,461.9 184.2,460.4 173.9,461.9 169.5,458.9 170.9,449.5 166.5,447.1" fill="#8a8683" stroke="#8a8683" stroke-width="0.8" stroke-linejoin="round"/><polyline points="237.9,394.0 237.9,397.0 241.5,407.6 252.0,420.0 246.8,435.9 247.6,448.2 239.7,458.8 238.5,462.6" fill="none" stroke="#e9e6e4" stroke-width="0.8" stroke-linejoin="round" stroke-linecap="round"/><polyline points="272.3,383.8 278.5,397.0 283.8,411.2 282.0,427.0 273.2,437.6 269.7,443.8 276.8,450.0 277.1,459.0 288.0,473.5 282.0,488.0 286.8,502.5 295.0,515.0 302.5,528.7" fill="none" stroke="#e9e6e4" stroke-width="0.8" stroke-linejoin="round" stroke-linecap="round"/><polyline points="315.1,379.2 316.1,388.7 321.4,401.4 316.1,414.1 321.4,424.7 317.2,437.4 314.6,439.7 318.2,454.2 317.0,468.7 331.5,482.0 329.1,490.4 338.7,502.5 344.8,517.6" fill="none" stroke="#e9e6e4" stroke-width="0.8" stroke-linejoin="round" stroke-linecap="round"/><polyline points="314.6,439.7 323.0,442.1 326.7,448.1 338.7,451.7 355.7,454.2 370.2,454.2" fill="none" stroke="#e9e6e4" stroke-width="0.8" stroke-linejoin="round" stroke-linecap="round"/><polyline points="330.9,368.6 336.0,377.0 339.0,386.0 339.4,392.9" fill="none" stroke="#e9e6e4" stroke-width="0.8" stroke-linejoin="round" stroke-linecap="round"/><polyline points="336.2,438.5 330.0,440.0 323.0,442.1" fill="none" stroke="#e9e6e4" stroke-width="0.8" stroke-linejoin="round" stroke-linecap="round"/><polyline points="353.2,421.5 356.0,424.0 357.5,414.0 358.5,404.0 361.7,391.9" fill="none" stroke="#e9e6e4" stroke-width="0.8" stroke-linejoin="round" stroke-linecap="round"/><polyline points="354.2,385.5 350.0,380.0 348.9,369.6" fill="none" stroke="#e9e6e4" stroke-width="0.8" stroke-linejoin="round" stroke-linecap="round"/><polyline points="363.8,387.7 366.0,386.0 369.1,385.5" fill="none" stroke="#e9e6e4" stroke-width="0.8" stroke-linejoin="round" stroke-linecap="round"/><polygon points="270.6,385.5 275.9,382.4 285.4,379.2 291.8,374.9 302.4,371.8 314.0,369.6 315.1,379.2 310.8,382.4 302.4,385.5 299.2,394.0 291.8,395.1 285.4,396.1 282.2,400.4 275.9,392.9" fill="#1570b5" stroke="#cfe0ee" stroke-width="0.5" stroke-linejoin="round"/><polygon points="314.0,369.6 321.4,368.6 327.8,365.8 330.9,368.6 328.8,378.1 315.1,379.2" fill="#1570b5" stroke="#cfe0ee" stroke-width="0.5" stroke-linejoin="round"/><polygon points="339.4,392.9 347.9,388.7 350.0,394.0 353.2,397.2 359.5,394.0 356.4,401.4 351.1,406.7 351.1,414.1 353.2,421.5 351.1,426.8 342.6,431.1 336.2,438.5 332.0,432.1 341.5,423.6 337.3,414.1 340.5,403.5 342.6,397.2" fill="#1570b5" stroke="#cfe0ee" stroke-width="0.5" stroke-linejoin="round"/><polygon points="354.2,385.5 360.6,383.4 363.8,387.7 361.7,391.9 355.3,394.0 352.8,390.8" fill="#1570b5" stroke="#cfe0ee" stroke-width="0.5" stroke-linejoin="round"/><line x1="275.9" y1="361.2" x2="291.8" y2="384.5" stroke="#444" stroke-width="0.5"/><line x1="310.2" y1="354.4" x2="323.5" y2="374.9" stroke="#444" stroke-width="0.5"/><line x1="342.6" y1="361.2" x2="345.8" y2="396.1" stroke="#444" stroke-width="0.5"/><line x1="406.1" y1="399.3" x2="351.1" y2="379.2" stroke="#444" stroke-width="0.5"/><line x1="399.8" y1="445.9" x2="354.2" y2="416.2" stroke="#444" stroke-width="0.5"/></svg>
<div class="tx">
<span class="t" style="left:144.00px;top:292.00px;font-size:13.52px;font-weight:700;color:#1a6bb0;transform:scaleX(0.9130);">Casos del estado Bolívar</span>
<span class="t" style="left:166.63px;top:310.00px;font-size:13.52px;font-weight:700;color:#1a6bb0;transform:scaleX(0.9608);">del día 23.8.2022</span>
<span class="t" style="left:365.42px;top:290.00px;font-size:6.98px;font-weight:700;color:#222;font-style:italic;transform:scaleX(1.0509);">FECHA 23/8/2022</span>
<span class="t" style="left:389.00px;top:322.00px;font-size:10.32px;font-weight:700;color:#fff;transform:scaleX(0.8007);">TOTAL</span>
<span class="t" style="left:392.42px;top:336.00px;font-size:18.02px;font-weight:700;color:#fff;transform:scaleX(0.9700);">26</span>
<span class="t" style="left:43.65px;top:362.00px;font-size:11.63px;font-weight:700;color:#fff;transform:scaleX(0.9324);">MUNICIPIOS</span>
<span class="t" style="left:7.00px;top:383.00px;font-size:9.01px;font-weight:400;color:#222;transform:scaleX(0.9843);">Angostura del Orinoco</span>
<span class="t" style="left:124.80px;top:382.00px;font-size:9.45px;font-weight:700;color:#1a6bb0;">15</span>
<span class="t" style="left:7.00px;top:395.00px;font-size:9.01px;font-weight:400;color:#222;transform:scaleX(0.9074);">Caroní</span>
<span class="t" style="left:124.80px;top:394.00px;font-size:9.45px;font-weight:700;color:#1a6bb0;">10</span>
<span class="t" style="left:6.61px;top:408.00px;font-size:9.01px;font-weight:400;color:#222;transform:scaleX(0.9394);">Roscio</span>
<span class="t" style="left:126.80px;top:407.00px;font-size:9.45px;font-weight:700;color:#1a6bb0;">1</span>
<span class="t" style="left:54.63px;top:511.00px;font-size:14.53px;font-weight:700;color:#1a6bb0;transform:scaleX(0.8375);">3</span>
<span class="t" style="left:66.16px;top:515.00px;font-size:10.47px;font-weight:400;color:#1a6bb0;transform:scaleX(0.9636);">de</span>
<span class="t" style="left:78.83px;top:511.00px;font-size:14.53px;font-weight:700;color:#1a6bb0;transform:scaleX(1.0071);">11</span>
<span class="t" style="left:26.58px;top:529.00px;font-size:9.74px;font-weight:400;color:#2a70b8;transform:scaleX(1.0478);">Municipios afectados</span>
<span class="t" style="left:216.37px;top:354.00px;font-size:8.14px;font-weight:400;color:#333;transform:scaleX(0.9642);">Angostura del Orinoco</span>
<span class="t" style="left:298.37px;top:345.00px;font-size:8.14px;font-weight:400;color:#333;transform:scaleX(0.9458);">Caroní</span>
<span class="t" style="left:331.42px;top:354.00px;font-size:8.14px;font-weight:400;color:#333;transform:scaleX(0.8800);">Roscio</span>
<span class="t" style="left:407.84px;top:389.00px;font-size:8.14px;font-weight:400;color:#333;transform:scaleX(0.9182);">Padre</span>
<span class="t" style="left:407.84px;top:399.00px;font-size:8.14px;font-weight:400;color:#333;transform:scaleX(0.9182);">Pedro</span>
<span class="t" style="left:407.84px;top:410.00px;font-size:8.14px;font-weight:400;color:#333;transform:scaleX(0.9429);">Chien</span>
<span class="t" style="left:389.84px;top:454.00px;font-size:8.14px;font-weight:400;color:#333;transform:scaleX(0.8938);">El Callao</span>
<span class="t" style="left:321.58px;top:392.00px;font-size:7.85px;font-weight:400;color:#f1efee;transform:scaleX(0.9357);">Piar</span>
<span class="t" style="left:364.60px;top:409.00px;font-size:7.85px;font-weight:400;color:#f1efee;transform:scaleX(1.0333);">Sifontes</span>
<span class="t" style="left:279.05px;top:443.00px;font-size:7.85px;font-weight:400;color:#f1efee;transform:scaleX(1.0008);">Angostura</span>
<span class="t" style="left:250.83px;top:471.00px;font-size:7.85px;font-weight:400;color:#f1efee;transform:scaleX(0.9607);">Sucre</span>
<span class="t" style="left:348.05px;top:476.00px;font-size:7.85px;font-weight:400;color:#f1efee;transform:scaleX(0.9882);">Gran</span>
<span class="t" style="left:345.10px;top:486.00px;font-size:7.85px;font-weight:400;color:#f1efee;transform:scaleX(0.9172);">Sabana</span>
<span class="t" style="left:200.84px;top:425.00px;font-size:7.85px;font-weight:400;color:#f1efee;transform:scaleX(0.9815);">Cedeño</span>
</div>
</div></div>
<svg width="882" height="567" viewBox="0 0 882 567" style="pointer-events:none"><rect x="0.2" y="286.7" width="431.80" height="1.65" fill="#303030"/><rect x="0.2" y="565.15" width="431.80" height="1.85" fill="#303030"/><rect x="0.2" y="286.7" width="1.8" height="280.30" fill="#484848"/><rect x="430.00" y="286.7" width="2.0" height="280.30" fill="#484848"/></svg>
<div class="panel" style="left:440px;top:287px;width:441px;height:280px"><div class="in" style="left:-440px;top:-287px">
<div style="position:absolute;left:441.00px;top:287.50px;width:440.00px;height:21.60px;box-sizing:border-box;background:linear-gradient(90deg,#3a9ca6 0%,#3a98a9 11%,#2c87ae 20%,#1f74b4 31%,#1a6bb5 50%,#1d72b3 70%,#26878f 84%,#2e9c5a 92%,#2fa04c 100%);"></div>
<svg width="882" height="567" viewBox="0 0 882 567"><g fill="#fdfbf8" stroke="#fdfbf8"><circle cx="447.5" cy="299.5" r="8.6" stroke="none"/><line x1="452" y1="297" x2="462" y2="295.2" stroke-width="1.3"/><circle cx="462" cy="295.3" r="1.7" stroke="none"/><line x1="449" y1="292" x2="452.5" y2="289" stroke-width="1.3"/><circle cx="453" cy="292.6" r="1.4" stroke="none"/><line x1="452" y1="303" x2="458" y2="303" stroke-width="1.3"/><circle cx="458" cy="302.6" r="1.4" stroke="none"/><line x1="449" y1="306" x2="455" y2="309.5" stroke-width="1.6"/><circle cx="462" cy="308.6" r="1.6" stroke="none"/></g><circle cx="450.2" cy="299" r="1.3" fill="#2f979f"/><circle cx="449.6" cy="306.2" r="1.2" fill="#2f979f"/><circle cx="446.3" cy="293.5" r="1.0" fill="#2f979f"/><circle cx="443" cy="301.5" r="1.6" fill="#2f979f"/><circle cx="451.5" cy="294.5" r="0.8" fill="#2f979f"/><circle cx="465.9" cy="290.3" r="2.1" fill="#fdfbf8"/><circle cx="465.9" cy="290.3" r="0.7" fill="#4aa3ad"/><g fill="#fdfbf8" stroke="#fdfbf8"><circle cx="476.3" cy="299" r="5.4" stroke="none"/><line x1="476.3" y1="299" x2="484.92" y2="300.75" stroke-width="0.8"/><circle cx="484.92" cy="300.75" r="0.9" stroke="none"/><line x1="476.3" y1="299" x2="482.89" y2="304.83" stroke-width="0.8"/><circle cx="482.89" cy="304.83" r="0.9" stroke="none"/><line x1="476.3" y1="299" x2="479.10" y2="307.34" stroke-width="0.8"/><circle cx="479.10" cy="307.34" r="0.9" stroke="none"/><line x1="476.3" y1="299" x2="474.55" y2="307.62" stroke-width="0.8"/><circle cx="474.55" cy="307.62" r="0.9" stroke="none"/><line x1="476.3" y1="299" x2="470.47" y2="305.59" stroke-width="0.8"/><circle cx="470.47" cy="305.59" r="0.9" stroke="none"/><line x1="476.3" y1="299" x2="467.96" y2="301.80" stroke-width="0.8"/><circle cx="467.96" cy="301.80" r="0.9" stroke="none"/><line x1="476.3" y1="299" x2="467.68" y2="297.25" stroke-width="0.8"/><circle cx="467.68" cy="297.25" r="0.9" stroke="none"/><line x1="476.3" y1="299" x2="469.71" y2="293.17" stroke-width="0.8"/><circle cx="469.71" cy="293.17" r="0.9" stroke="none"/><line x1="476.3" y1="299" x2="473.50" y2="290.66" stroke-width="0.8"/><circle cx="473.50" cy="290.66" r="0.9" stroke="none"/><line x1="476.3" y1="299" x2="478.05" y2="290.38" stroke-width="0.8"/><circle cx="478.05" cy="290.38" r="0.9" stroke="none"/><line x1="476.3" y1="299" x2="482.13" y2="292.41" stroke-width="0.8"/><circle cx="482.13" cy="292.41" r="0.9" stroke="none"/><line x1="476.3" y1="299" x2="484.64" y2="296.20" stroke-width="0.8"/><circle cx="484.64" cy="296.20" r="0.9" stroke="none"/></g><circle cx="476.3" cy="299" r="3.35" fill="none" stroke="#3490aa" stroke-width="0.7" stroke-dasharray="1.2 0.9"/><circle cx="476.3" cy="299" r="1.19" fill="#3490aa"/><g fill="#fdfbf8" stroke="#fdfbf8"><circle cx="837.4" cy="295.3" r="5.4" stroke="none"/><line x1="837.4" y1="295.3" x2="846.02" y2="297.05" stroke-width="0.8"/><circle cx="846.02" cy="297.05" r="0.9" stroke="none"/><line x1="837.4" y1="295.3" x2="843.99" y2="301.13" stroke-width="0.8"/><circle cx="843.99" cy="301.13" r="0.9" stroke="none"/><line x1="837.4" y1="295.3" x2="840.20" y2="303.64" stroke-width="0.8"/><circle cx="840.20" cy="303.64" r="0.9" stroke="none"/><line x1="837.4" y1="295.3" x2="835.65" y2="303.92" stroke-width="0.8"/><circle cx="835.65" cy="303.92" r="0.9" stroke="none"/><line x1="837.4" y1="295.3" x2="831.57" y2="301.89" stroke-width="0.8"/><circle cx="831.57" cy="301.89" r="0.9" stroke="none"/><line x1="837.4" y1="295.3" x2="829.06" y2="298.10" stroke-width="0.8"/><circle cx="829.06" cy="298.10" r="0.9" stroke="none"/><line x1="837.4" y1="295.3" x2="828.78" y2="293.55" stroke-width="0.8"/><circle cx="828.78" cy="293.55" r="0.9" stroke="none"/><line x1="837.4" y1="295.3" x2="830.81" y2="289.47" stroke-width="0.8"/><circle cx="830.81" cy="289.47" r="0.9" stroke="none"/><line x1="837.4" y1="295.3" x2="834.60" y2="286.96" stroke-width="0.8"/><circle cx="834.60" cy="286.96" r="0.9" stroke="none"/><line x1="837.4" y1="295.3" x2="839.15" y2="286.68" stroke-width="0.8"/><circle cx="839.15" cy="286.68" r="0.9" stroke="none"/><line x1="837.4" y1="295.3" x2="843.23" y2="288.71" stroke-width="0.8"/><circle cx="843.23" cy="288.71" r="0.9" stroke="none"/><line x1="837.4" y1="295.3" x2="845.74" y2="292.50" stroke-width="0.8"/><circle cx="845.74" cy="292.50" r="0.9" stroke="none"/></g><circle cx="837.4" cy="295.3" r="3.35" fill="none" stroke="#2c8f86" stroke-width="0.7" stroke-dasharray="1.2 0.9"/><circle cx="837.4" cy="295.3" r="1.19" fill="#2c8f86"/><circle cx="848.7" cy="304.9" r="2.1" fill="#fdfbf8"/><circle cx="848.7" cy="304.9" r="0.7" fill="#5ab07a"/><g fill="#fdfbf8" stroke="#fdfbf8"><circle cx="869.5" cy="296.5" r="10.2" stroke="none"/><line x1="862" y1="297" x2="852" y2="298.6" stroke-width="1.3"/><circle cx="851.6" cy="298.6" r="1.6" stroke="none"/><line x1="862" y1="291" x2="856" y2="290" stroke-width="1.3"/><circle cx="855.5" cy="291.6" r="1.4" stroke="none"/><line x1="864" y1="304" x2="859.5" y2="302" stroke-width="1.3"/><circle cx="859.5" cy="301.8" r="1.4" stroke="none"/></g><circle cx="870.5" cy="292" r="2.0" fill="#2d9e46"/><circle cx="875" cy="298.3" r="1.5" fill="#2d9e46"/><circle cx="862.5" cy="295" r="1.0" fill="#2d9e46"/><circle cx="868" cy="300.5" r="0.8" fill="#2d9e46"/><circle cx="878.5" cy="291" r="1.2" fill="#2d9e46"/><path d="M864.5 309.1 L866 304.5 L869.5 306.5 L871 304.6 L875 304.6 L876.5 306.2 L878 309.1 Z" fill="#2d9e46"/></svg>
<div style="position:absolute;left:767.20px;top:322.80px;width:114.80px;height:35.60px;box-sizing:border-box;border-radius:17.8px 0 0 17.8px;background:#2ea54d;box-shadow:0 1px 2px rgba(0,0,0,.2),0 0 0 1px rgba(255,255,255,.6);"></div>
<div style="position:absolute;left:808.50px;top:362.00px;width:81.50px;height:17.10px;box-sizing:border-box;border-radius:9px 0 0 9px;background:linear-gradient(90deg,#fcfaf8 30%,#e9e5e3);border:1px solid #ebe7e4;"></div>
<div style="position:absolute;left:808.50px;top:381.70px;width:81.50px;height:16.80px;box-sizing:border-box;border-radius:9px 0 0 9px;background:linear-gradient(90deg,#fcfaf8 30%,#e9e5e3);border:1px solid #ebe7e4;"></div>
<div style="position:absolute;left:878.00px;top:378.60px;width:4.00px;height:1.20px;box-sizing:border-box;background:#222;"></div>
<div style="position:absolute;left:440.00px;top:473.80px;width:3.00px;height:1.20px;box-sizing:border-box;background:#222;"></div>
<div style="position:absolute;left:465.00px;top:405.00px;width:183.30px;height:16.30px;box-sizing:border-box;border-radius:0 9px 9px 0;background:linear-gradient(90deg,#b3cbe4 0%,#7fa3cc 35%,#4a78ae 100%);box-shadow:0 1px 1.5px rgba(0,0,0,.18);"></div>
<div style="position:absolute;left:477.40px;top:422.40px;width:130.20px;height:14.50px;box-sizing:border-box;background:#dbe8f2;"></div>
<div style="position:absolute;left:607.60px;top:422.40px;width:32.00px;height:14.50px;box-sizing:border-box;background:#f5efec;border:1px solid #e9e3e0;border-left:none;"></div>
<svg width="882" height="567" viewBox="0 0 882 567"><defs><clipPath id="fc"><circle cx="465.3" cy="416.8" r="12.2"/></clipPath><radialGradient id="fsh" cx="0.35" cy="0.3" r="0.8"><stop offset="0" stop-color="#fff" stop-opacity="0.25"/><stop offset="0.7" stop-color="#000" stop-opacity="0"/><stop offset="1" stop-color="#000" stop-opacity="0.25"/></radialGradient></defs><g transform="translate(0,416.8) scale(1,0.9) translate(0,-416.8)"><circle cx="465.3" cy="416.8" r="13.4" fill="#2a4a86"/><g clip-path="url(#fc)"><rect x="452" y="404" width="13.3" height="12.8" fill="#f6f4f4"/><rect x="465.3" y="404" width="14" height="12.8" fill="#d8232a"/><rect x="452" y="416.8" width="13.3" height="13" fill="#1b3f8c"/><rect x="465.3" y="416.8" width="14" height="13" fill="#f1efef"/><path d="M459.5 409 l0.8 2 h2 l-1.6 1.3 l0.6 2 l-1.8 -1.2 l-1.8 1.2 l0.6 -2 l-1.6 -1.3 h2 z" fill="#1b3f8c"/><path d="M471 420.5 l0.8 2 h2 l-1.6 1.3 l0.6 2 l-1.8 -1.2 l-1.8 1.2 l0.6 -2 l-1.6 -1.3 h2 z" fill="#d8232a"/><circle cx="465.3" cy="416.8" r="12.2" fill="url(#fsh)"/></g></g></svg>
<svg width="882" height="567" viewBox="0 0 882 567"><polygon points="698.6,417.1 720.8,420.2 722.0,431.9 694.4,429.8" fill="#56adb9" stroke="#56adb9" stroke-width="0.5" stroke-linejoin="round"/><polygon points="725.1,416.0 727.2,416.0 733.5,417.1 735.7,409.6 743.1,408.6 746.2,413.9 751.5,414.9 755.8,414.9 761.1,411.8 763.2,413.9 767.4,410.7 769.5,414.9 780.1,422.4 790.7,427.6 801.3,430.8 808.7,436.1 808.7,443.5 799.4,453.9 797.9,460.9 796.5,469.4 790.9,479.3 783.8,482.1 777.5,485.7 775.4,490.6 774.7,496.9 757.0,496.9 759.1,492.0 761.9,489.2 759.8,482.8 755.6,480.0 752.8,476.5 751.4,470.8 750.7,466.6 745.7,462.4 745.0,457.4 737.9,455.3 732.3,451.8 730.2,446.5 722.4,450.4 718.9,448.2 715.4,445.4 711.8,441.2 711.1,437.6 714.6,433.4 719.6,431.3 720.3,427.1 722.0,424.9 727.4,420.0" fill="#87c6d6" stroke="#87c6d6" stroke-width="0.5" stroke-linejoin="round"/><polygon points="602.7,334.8 611.2,335.9 623.9,338.0 634.5,336.9 637.6,342.2 644.0,343.3 649.3,349.6 650.4,358.1 653.5,365.5 659.9,371.9 667.3,369.8 670.5,364.5 677.9,363.4 678.9,366.6 674.7,375.1 671.5,378.2 669.4,383.5 665.2,381.4 659.9,378.2 651.4,377.2 642.9,374.0 635.5,369.8 632.4,362.4 626.0,353.9 618.6,346.5 613.3,341.2 610.1,340.1 611.2,342.2 614.4,348.6 619.6,354.9 621.3,359.2 617.5,356.0 611.2,349.6 608.0,343.3 603.8,335.9" fill="#4a7479" stroke="#4a7479" stroke-width="0.5" stroke-linejoin="round"/><polygon points="650.0,352.7 652.8,352.7 652.8,364.0 656.4,370.4 662.0,372.5 667.6,370.4 670.5,365.4 678.2,364.0 677.5,368.9 675.1,374.6 673.3,378.8 671.2,382.4 667.6,380.9 664.1,378.1 658.5,377.0 650.0,378.1" fill="#4a7479" stroke="#4a7479" stroke-width="0.5" stroke-linejoin="round"/><polygon points="667.6,373.9 671.2,372.8 675.1,374.6 673.3,378.8 671.2,382.4 667.6,380.9 665.8,377.8" fill="#4d8e96" stroke="#4d8e96" stroke-width="0.5" stroke-linejoin="round"/><polygon points="673.3,378.8 681.8,378.8 686.4,380.2 687.4,383.8 686.4,388.0 685.3,391.5 682.2,392.9 680.4,388.7 677.5,385.2 673.3,383.1 671.2,382.4" fill="#78c0cc" stroke="#78c0cc" stroke-width="0.5" stroke-linejoin="round"/><polygon points="681.8,381.2 686.4,380.2 687.4,383.8 686.4,388.0 685.3,391.5 683.2,389.4 680.8,385.5" fill="#5aa5ae" stroke="#5aa5ae" stroke-width="0.5" stroke-linejoin="round"/><polygon points="682.2,392.9 685.3,391.5 688.1,394.4 692.4,397.2 696.6,395.8 700.1,396.5 702.9,398.6 701.5,400.7 698.7,398.6 695.2,399.3 691.6,400.0 688.1,397.9 684.6,395.8" fill="#7cc4d0" stroke="#7cc4d0" stroke-width="0.5" stroke-linejoin="round"/><polygon points="717.8,390.1 722.0,389.4 726.2,391.5 730.5,393.6 734.7,393.6 740.4,392.9 743.2,394.4 747.4,397.9 750.9,402.1 753.1,405.7 752.4,409.2 749.5,410.6 751.7,414.8 748.8,416.9 746.0,413.4 746.7,409.2 743.2,408.5 737.5,410.6 734.7,414.8 733.3,417.7 729.1,416.9 728.4,413.4 726.9,410.6 727.7,406.4 726.2,402.8 720.6,400.0 716.4,397.9 713.5,395.8 714.2,392.9" fill="#419aa6" stroke="#419aa6" stroke-width="0.5" stroke-linejoin="round"/><polygon points="702.9,398.6 704.4,394.4 708.6,391.5 713.5,389.4 716.4,388.0 717.8,390.1 714.2,392.9 713.5,395.8 716.4,397.9 720.6,400.0 726.2,402.8 727.7,406.4 726.9,410.6 728.4,413.4 726.2,416.9 723.4,420.1 720.8,420.2 719.8,427.6 711.3,425.5 704.9,421.3 698.6,417.1 701.8,411.8 701.5,402.1" fill="#447b82" stroke="#447b82" stroke-width="0.5" stroke-linejoin="round"/><polygon points="753.1,405.7 760.1,405.7 761.5,410.6 758.7,414.1 754.5,414.8 751.7,414.8 749.5,410.6 752.4,409.2" fill="#c6e6ec" stroke="#c6e6ec" stroke-width="0.5" stroke-linejoin="round"/><polygon points="760.1,405.7 764.4,406.4 767.2,409.9 765.1,413.4 761.5,414.1 761.5,410.6" fill="#4fb0bd" stroke="#4fb0bd" stroke-width="0.5" stroke-linejoin="round"/><polygon points="695.6,419.3 706.2,419.3 710.4,423.5 706.2,424.9 701.9,427.8 698.4,431.3 694.2,427.8 693.5,424.2" fill="#5fb4c0" stroke="#5fb4c0" stroke-width="0.5" stroke-linejoin="round"/><polygon points="693.5,425.6 692.3,430.6 694.9,435.5 699.1,442.6 704.8,452.5 706.2,457.4 713.2,462.4 720.3,466.6 722.8,468.0 723.1,460.9 723.8,455.3 722.4,450.4 718.9,448.2 715.4,445.4 711.8,441.2 711.1,437.6 714.6,433.4 719.6,431.3 720.3,427.1 716.8,425.6 710.4,423.5 706.2,424.9 701.9,427.8 698.4,431.3" fill="#56adb9" stroke="#56adb9" stroke-width="0.5" stroke-linejoin="round"/><polygon points="722.4,450.4 730.2,446.5 732.3,451.8 737.9,455.3 745.0,457.4 745.7,462.4 750.7,466.6 751.4,470.8 745.0,470.8 740.8,473.6 739.4,477.9 734.4,479.3 730.2,478.6 726.6,480.0 724.5,474.4 722.8,468.0 723.1,460.9 723.8,455.3" fill="#3f8a92" stroke="#3f8a92" stroke-width="0.5" stroke-linejoin="round"/><polygon points="740.8,473.6 745.0,470.8 751.4,470.8 752.8,476.5 755.6,480.0 759.8,482.8 761.9,489.2 759.1,492.0 754.2,490.6 749.9,489.2 751.4,485.7 747.1,482.8 741.5,480.7 739.4,477.9" fill="#4ba8b4" stroke="#4ba8b4" stroke-width="0.5" stroke-linejoin="round"/><polygon points="726.6,480.0 730.2,478.6 734.4,479.3 739.4,477.9 741.5,480.7 747.1,482.8 751.4,485.7 749.9,489.2 754.2,490.6 759.1,492.0 757.0,496.9 722.4,496.9 724.5,487.8 725.2,483.5" fill="#3f9aa6" stroke="#3f9aa6" stroke-width="0.5" stroke-linejoin="round"/><polygon points="720.3,466.6 722.8,468.0 724.5,474.4 726.6,480.0 725.2,483.5 724.5,487.8 722.4,496.9 718.2,496.9 719.6,486.4 721.0,476.5" fill="#52b0bc" stroke="#52b0bc" stroke-width="0.5" stroke-linejoin="round"/><polygon points="693.1,362.6 698.7,362.3 704.4,364.0 706.5,366.8 703.6,367.5 699.4,365.4 693.8,363.7" fill="#3f9fb0" /><polygon points="684.6,361.9 686.4,361.5 686.0,362.6" fill="#8fd0dc" /><polygon points="700.8,372.2 704.4,372.5 703.6,373.6 701.1,373.3" fill="#4fb0bd" /><polygon points="716.4,368.9 722.0,368.9 724.8,371.8 720.6,372.2 717.1,372.8" fill="#4fb0bd" /><line x1="706.5" y1="365.4" x2="726.9" y2="389.1" stroke="#94acda" stroke-width="1.1"/><polygon points="727.9,390.3 724.1,387.7 726.9,385.9" fill="#9ab0dc" /><polygon points="683.2,352.0 692.4,353.8 706.5,359.5 709.6,362.3 705.8,362.9 696.6,358.6 683.2,353.1" fill="#dde9f3" /><polygon points="690.2,347.3 692.4,345.9 694.5,348.8 694.0,352.4 691.2,351.6" fill="#a9d6e6" /><polygon points="696.6,358.6 705.8,362.9 707.9,366.1 705.8,366.1 699.4,361.2" fill="#c3d9ec" /><polygon points="710.0,358.1 715.7,356.4 715.2,357.8 710.7,359.2" fill="#cfe3ef" /><polygon points="696.6,354.1 702.9,352.7 703.6,353.6 698.7,355.5" fill="#d5e6f1" /><circle cx="692.1" cy="357.2" r="0.55" fill="#a8434a"/><circle cx="705.3" cy="360.2" r="0.55" fill="#a8434a"/><circle cx="709.0" cy="358.4" r="0.55" fill="#a8434a"/></svg>
<div style="position:absolute;left:673.80px;top:496.40px;width:190.50px;height:78.60px;box-sizing:border-box;border-radius:7px 7px 0 0;background:linear-gradient(90deg,#e5e1e0 0%,#efecea 45%,#f5f2f0 100%);box-shadow:1.5px 0 0 #bfbbb9, 0 -0.5px 1px rgba(0,0,0,.08);"></div>
<svg width="882" height="567" viewBox="0 0 882 567"><g transform="translate(694.00,516.50) scale(0.3300)" fill="#1f3864"><ellipse cx="28.5" cy="8.8" rx="9.6" ry="8.8"/><path d="M16.5 20.5 H40.5 C46.5 20.5 49.0 24 50.0 29 L56.8 56 C58.0 61 51.5 62.8 50.3 58 L44.0 35 H42.3 V95 C42.3 101.5 30.7 101.5 30.7 95 V64 H26.3 V95 C26.3 101.5 14.7 101.5 14.7 95 V35 H13.0 L6.699999999999999 58 C5.5 62.8 -1.0 61 0.1999999999999993 56 L7.0 29 C8.0 24 10.5 20.5 16.5 20.5 Z"/></g><g transform="translate(785.00,517.50) scale(0.3350)" fill="#c9408c"><ellipse cx="28.5" cy="8.8" rx="9.4" ry="8.8"/><path d="M19.5 20.5 H37.5 C43.0 20.5 45.5 24 47.0 29 L56.0 54 C57.5 59 51.5 61.5 49.5 57 L41.5 36 H40.0 L49.5 72 H41.0 V95 C41.0 101 30.7 101 30.7 95 V72 H26.3 V95 C26.3 101 16.0 101 16.0 95 V72 H7.5 L17.0 36 H15.5 L7.5 57 C5.5 61.5 -0.5 59 1.0 54 L10.0 29 C11.5 24 14.0 20.5 19.5 20.5 Z"/></g></svg>
<div class="tx">
<span class="t" style="left:498.53px;top:294.00px;font-size:11.92px;font-weight:700;color:#fff;transform:scaleX(1.0505);">ESTADÍSTICAS DEL CORONAVIRUS EN VENEZUELA</span>
<span class="t" style="left:516.00px;top:312.00px;font-size:12.35px;font-weight:700;color:#1a6bb0;transform:scaleX(1.0365);">Casos importados del día 23.8.2022</span>
<span class="t" style="left:809.79px;top:312.00px;font-size:7.12px;font-weight:700;color:#222;font-style:italic;transform:scaleX(1.0345);">FECHA 23/8/2022</span>
<span class="t" style="left:818.70px;top:330.00px;font-size:11.05px;font-weight:700;color:#fff;">1</span>
<span class="t" style="left:781.16px;top:345.00px;font-size:8.87px;font-weight:400;color:#d9f2dc;transform:scaleX(1.1244);">Caso Internacional</span>
<span class="t" style="left:817.16px;top:366.00px;font-size:9.74px;font-weight:700;color:#222;transform:scaleX(1.0018);">Semana 128</span>
<span class="t" style="left:828.58px;top:385.00px;font-size:9.74px;font-weight:700;color:#222;transform:scaleX(0.9853);">Día 891</span>
<span class="t" style="left:486.63px;top:409.00px;font-size:8.58px;font-weight:700;color:#fff;transform:scaleX(0.9558);">1 PROCEDENTE DE PANAMÁ</span>
<span class="t" style="left:481.63px;top:427.00px;font-size:6.69px;font-weight:700;color:#333;transform:scaleX(1.0613);">La Guaira</span>
<span class="t" style="left:620.70px;top:425.00px;font-size:8.43px;font-weight:700;color:#2a4080;">1</span>
<span class="t" style="left:720.52px;top:522.00px;font-size:7.85px;font-weight:400;color:#3a5ba0;transform:scaleX(1.1846);">Hombres</span>
<span class="t" style="left:735.58px;top:533.00px;font-size:14.1px;font-weight:700;color:#2a4b8d;transform:scaleX(1.1556);">0</span>
<span class="t" style="left:810.15px;top:522.00px;font-size:7.85px;font-weight:400;color:#e0207a;transform:scaleX(1.1945);">Mujeres</span>
<span class="t" style="left:822.97px;top:534.00px;font-size:13.81px;font-weight:700;color:#e0207a;transform:scaleX(1.0286);">1</span>
</div>
</div></div>
<svg width="882" height="567" viewBox="0 0 882 567" style="pointer-events:none"><rect x="440.0" y="286.7" width="441.00" height="1.65" fill="#303030"/><rect x="440.0" y="565.15" width="441.00" height="1.85" fill="#303030"/><rect x="440.0" y="286.7" width="1.8" height="280.30" fill="#484848"/><rect x="879.00" y="286.7" width="2.0" height="280.30" fill="#484848"/></svg>
</body></html>
